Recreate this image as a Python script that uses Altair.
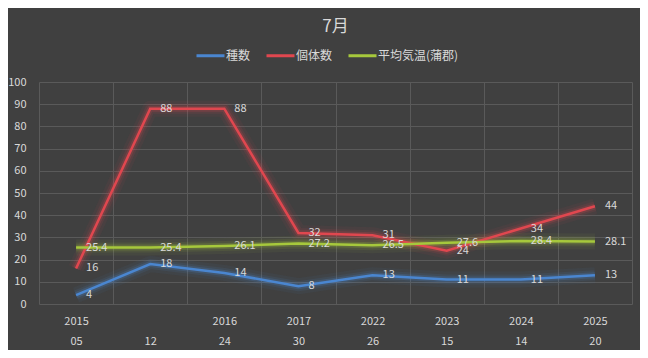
import altair as alt
import pandas as pd

years = ["2015", "", "2016", "2017", "2022", "2023", "2024", "2025"]
days = ["05", "12", "24", "30", "26", "15", "14", "20"]
species = [4, 18, 14, 8, 13, 11, 11, 13]
individuals = [16, 88, 88, 32, 31, 24, 34, 44]
temperature = [25.4, 25.4, 26.1, 27.2, 26.5, 27.6, 28.4, 28.1]

series_names = ["種数", "個体数", "平均気温(蒲郡)"]
series_colors = ["#4a86d0", "#e0474f", "#a6c83c"]

keys = [f"{y}\n{d}" for y, d in zip(years, days)]
rows = []
for name, vals in zip(series_names, [species, individuals, temperature]):
    for k, v in zip(keys, vals):
        rows.append({"key": k, "series": name, "value": v,
                     "label": (f"{v:g}" if isinstance(v, int) else f"{v:.1f}")})
df = pd.DataFrame(rows)

TXT = "#d9d9d9"
FONT = "Noto Sans CJK JP"

x_enc = alt.X("key:N", sort=keys, bandPosition=0.5,
              scale=alt.Scale(type="band", paddingInner=0, paddingOuter=0),
              axis=alt.Axis(title=None, labelAngle=0, ticks=False, domain=False,
                            grid=True, gridColor="#5a5a5a", tickBand="extent",
                            labelExpr="datum.value ? split(datum.value, '\\n') : ''",
                            labelLineHeight=20, labelPadding=11,
                            labelColor=TXT, labelFontSize=11, labelFont=FONT))
y_enc = alt.Y("value:Q", scale=alt.Scale(domain=[0, 100]),
              axis=alt.Axis(title=None, values=list(range(0, 101, 10)), ticks=False,
                            domain=False, gridColor="#5a5a5a", labelPadding=13,
                            labelColor=TXT, labelFontSize=11, labelFont=FONT))
color_scale = alt.Scale(domain=series_names, range=series_colors)
legend = alt.Legend(title=None, orient="none", direction="horizontal",
                    legendX=156, legendY=-42,
                    symbolType="stroke", symbolStrokeWidth=3, symbolOpacity=1,
                    symbolSize=784, labelColor=TXT, labelFontSize=12,
                    labelFont=FONT, labelOffset=0, columnPadding=9)
color_enc = alt.Color("series:N", scale=color_scale, sort=series_names, legend=legend)

base = alt.Chart(df)

glow0 = base.mark_line(strokeWidth=16, opacity=0.06, strokeJoin="round").encode(
    x=x_enc, y=y_enc, color=color_enc)
glow1 = base.mark_line(strokeWidth=10, opacity=0.10, strokeJoin="round").encode(
    x=x_enc, y=y_enc, color=color_enc)
glow2 = base.mark_line(strokeWidth=6, opacity=0.20, strokeJoin="round").encode(
    x=x_enc, y=y_enc, color=color_enc)
main = base.mark_line(strokeWidth=2.5).encode(
    x=x_enc, y=y_enc, color=color_enc)
labels = base.mark_text(align="left", baseline="middle", dx=10, color=TXT,
                        fontSize=11, font=FONT).encode(
    x=x_enc, y=y_enc, text="label:N")

chart = alt.layer(glow0, glow1, glow2, main, labels).properties(
    width=593, height=222,
    title=alt.TitleParams("7月", color=TXT, fontSize=17, fontWeight="normal",
                          font=FONT, anchor="middle", offset=4),
    background="#404040",
    autosize=alt.AutoSizeParams(type="none"),
    padding={"left": 31, "top": 74, "right": 8, "bottom": 46},
).configure_view(stroke=None)

chart.save("out.html", embed_options={"renderer": "svg", "actions": False})
